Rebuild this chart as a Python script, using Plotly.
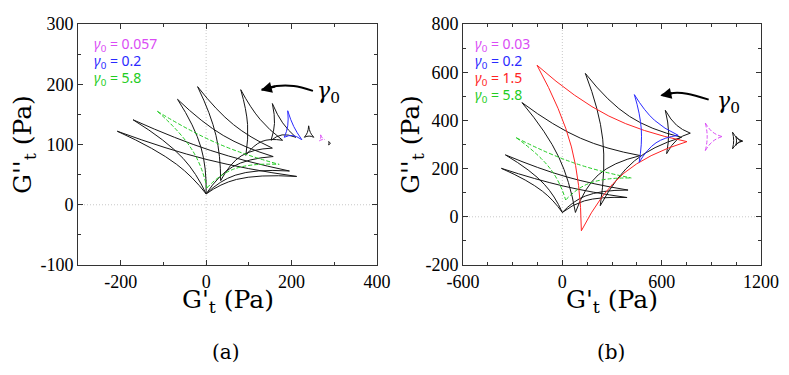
import plotly.graph_objects as go

# ---------------- Panel (a) : curved triangles (cusps + edge mid-points) ----------------
a_style = ["k", "k", "g", "k", "k", "k", "k", "b", "k", "m", "k"]
a_top_x = [-208, -171, -114, -67, -20, 81, 155, 191, 240, 268, 287]
a_top_y = [122, 141, 155, 175, 196, 191, 168, 156, 131, 116, 105]
a_right_x = [212, 195, 171, 157, 155, 179, 210, 224, 252, 278, 291]
a_right_y = [47, 56, 67, 80, 94, 107, 112, 108, 112, 108, 102]
a_bot_x = [0, 0, 2, 0, 34, 93, 152, 183, 230, 265, 287]
a_bot_y = [18, 18, 28, 18, 40, 82, 107, 112, 112, 106, 99]
a_mid_tr_x = [2, 11, 26, 40, 64, 126, 179, 205, 244, 272, 289]
a_mid_tr_y = [75, 90, 102, 115, 133, 142, 136, 130, 120, 111, 103]
a_mid_tb_x = [-69, -54, -31, -12, 23, 97, 160, 191, 237, 268, 287.5]
a_mid_tb_y = [67, 77, 89, 95, 115, 133, 135, 131, 120, 111, 102]
a_mid_br_x = [71, 68, 64, 62, 82, 130, 178, 202, 241, 271, 289]
a_mid_br_y = [42, 49, 59, 63, 81, 105, 116, 115, 114, 108, 101]

# ---------------- Panel (b) ----------------
b_style = ["k", "k", "g", "k", "r", "k", "b", "k", "m", "k", "k"]
b_top_x = [-368, -344, -278, -244, -153, 139, 435, 622, 864, 1028, 1048]
b_top_y = [201, 257, 328, 474, 629, 595, 507, 442, 389, 351, 334]
b_right_x = [391, 397, 417, 471, 753, 720, 700, 773, 965, 1090, 1082]
b_right_y = [80, 111, 161, 254, 312, 330, 338, 347, 333, 314, 314]
b_bot_x = [0, 0, 20, 79, 115, 229, 464, 630, 864, 1028, 1048]
b_bot_y = [18, 18, 70, 18, -58, 46, 226, 262, 275, 282, 296]
b_mid_tr_x = [10, 24, 64, 110, 281, 407, 556, 690, 909, 1056, 1063]
b_mid_tr_y = [127, 166, 225, 326, 418, 416, 401, 380, 351, 327, 321]
b_mid_tb_x = [-120, -109, -68, -21, 55, 244, 477, 642, 875, 1035, 1052]
b_mid_tb_y = [106, 135, 195, 247, 290, 322, 363, 351, 332, 316, 315]
b_mid_br_x = [133, 138, 163, 217, 372, 437, 566, 693, 909, 1056, 1063]
b_mid_br_y = [66, 86, 139, 174, 181, 233, 307, 320, 313, 304, 308]

# legend-like labels
a_labels = ["0.057", "0.2", "5.8"]
a_label_styles = ["m", "b", "g"]
b_labels = ["0.03", "0.2", "1.5", "5.8"]
b_label_styles = ["m", "b", "r", "g"]

# curved "γ0" arrows (data coordinates)
arrow_a_x = [250, 205, 165, 130]
arrow_a_y = [189, 197, 197, 191]
arrow_b_x = [884, 753, 672, 600]
arrow_b_y = [486, 511, 514, 505]

# ticks
a_xticks = [-200, 0, 200, 400]
a_yticks = [-100, 0, 100, 200, 300]
b_xticks = [-600, 0, 600, 1200]
b_yticks = [-200, 0, 200, 400, 600, 800]

COLORS = {"k": "#161616", "g": "#22cc22", "b": "#2a2aff", "r": "#ff2424", "m": "#da4cf5"}
DASHED = {"g", "m"}
OFF = 8                      # page body margin of the browser
W, H = 789 - OFF, 375 - OFF
SERIF = "Liberation Serif, Times New Roman, serif"
SERIF2 = "DejaVu Serif, Liberation Serif, serif"


def px(x):
    return (x - OFF) / W


def py(y):
    return 1 - (y - OFF) / H


fig = go.Figure()


def add_panel(style, tx, ty, rx, ry, bx, by, mtrx, mtry, mtbx, mtby, mbrx, mbry, xa, ya):
    order = [i for i, s in enumerate(style) if s == "k"] + [i for i, s in enumerate(style) if s != "k"]
    for i in order:
        xs = [tx[i], mtrx[i], rx[i], None, tx[i], mtbx[i], bx[i], None, bx[i], mbrx[i], rx[i]]
        ys = [ty[i], mtry[i], ry[i], None, ty[i], mtby[i], by[i], None, by[i], mbry[i], ry[i]]
        s = style[i]
        fig.add_trace(go.Scatter(
            x=xs, y=ys, xaxis=xa, yaxis=ya, mode="lines", connectgaps=False,
            line=dict(color=COLORS[s], width=1.0, shape="spline", smoothing=1.3,
                      dash="4px,2px" if s in DASHED else "solid"),
            hoverinfo="skip", showlegend=False))


add_panel(a_style, a_top_x, a_top_y, a_right_x, a_right_y, a_bot_x, a_bot_y,
          a_mid_tr_x, a_mid_tr_y, a_mid_tb_x, a_mid_tb_y, a_mid_br_x, a_mid_br_y, "x", "y")
add_panel(b_style, b_top_x, b_top_y, b_right_x, b_right_y, b_bot_x, b_bot_y,
          b_mid_tr_x, b_mid_tr_y, b_mid_tb_x, b_mid_tb_y, b_mid_br_x, b_mid_br_y, "x2", "y2")

# arrow bodies
for ax_, ay_, xa, ya in [(arrow_a_x, arrow_a_y, "x", "y"), (arrow_b_x, arrow_b_y, "x2", "y2")]:
    fig.add_trace(go.Scatter(x=ax_, y=ay_, xaxis=xa, yaxis=ya, mode="lines",
                             line=dict(color="black", width=2, shape="spline"),
                             hoverinfo="skip", showlegend=False))

tickfont = dict(family=SERIF, size=18, color="black")
common = dict(showline=True, linecolor="#333333", linewidth=1, mirror="allticks",
              ticks="inside", ticklen=5, tickwidth=1, tickcolor="#333333", automargin=False,
              showgrid=False, zeroline=False, tickfont=tickfont, tickmode="array")

fig.update_layout(
    width=W, height=H, autosize=False,
    margin=dict(l=0, r=0, t=0, b=0, pad=0, autoexpand=False),
    paper_bgcolor="white", plot_bgcolor="white", showlegend=False,
    xaxis=dict(domain=[px(78), px(377)], range=[-300, 400], anchor="y",
               tickvals=a_xticks, ticktext=[str(v) for v in a_xticks],
               minor=dict(tick0=0, dtick=100, ticks="inside", ticklen=3, tickcolor="#333333"), **common),
    yaxis=dict(domain=[py(265), py(24)], range=[-100, 300], anchor="x",
               tickvals=a_yticks, ticktext=[str(v) for v in a_yticks],
               minor=dict(tick0=0, dtick=50, ticks="inside", ticklen=3, tickcolor="#333333"), **common),
    xaxis2=dict(domain=[px(463), px(761)], range=[-600, 1200], anchor="y2",
                tickvals=b_xticks, ticktext=[str(v) for v in b_xticks],
                minor=dict(tick0=0, dtick=150, ticks="inside", ticklen=3, tickcolor="#333333"), **common),
    yaxis2=dict(domain=[py(265), py(24)], range=[-200, 800], anchor="x2",
                tickvals=b_yticks, ticktext=[str(v) for v in b_yticks],
                minor=dict(tick0=0, dtick=100, ticks="inside", ticklen=3, tickcolor="#333333"), **common),
)

# dotted zero lines
for xr, yr in [("x", "y"), ("x2", "y2")]:
    fig.add_shape(type="line", xref=xr, yref=yr + " domain", x0=0, x1=0, y0=0, y1=1,
                  line=dict(color="#c8c8c8", width=1, dash="1px,2px"), layer="below")
    fig.add_shape(type="line", xref=xr + " domain", yref=yr, x0=0, x1=1, y0=0, y1=0,
                  line=dict(color="#c8c8c8", width=1, dash="1px,2px"), layer="below")

ann = []
# arrow heads
ann.append(dict(xref="x", yref="y", axref="x", ayref="y", x=arrow_a_x[-1] - 2, y=arrow_a_y[-1] - 1,
                ax=arrow_a_x[-2], ay=arrow_a_y[-2], text="", showarrow=True,
                arrowhead=2, arrowsize=1.1, arrowwidth=2, arrowcolor="black"))
ann.append(dict(xref="x2", yref="y2", axref="x2", ayref="y2", x=arrow_b_x[-1] - 8, y=arrow_b_y[-1] - 3,
                ax=arrow_b_x[-2], ay=arrow_b_y[-2], text="", showarrow=True,
                arrowhead=2, arrowsize=1.1, arrowwidth=2, arrowcolor="black"))
# γ0 labels near arrows
gam_font = dict(family=SERIF2, size=22, color="black")
ann.append(dict(xref="paper", yref="paper", x=px(328), y=py(93), text="<i>γ</i><sub>0</sub>",
                showarrow=False, font=gam_font, xanchor="center", yanchor="middle"))
ann.append(dict(xref="paper", yref="paper", x=px(728), y=py(103), text="<i>γ</i><sub>0</sub>",
                showarrow=False, font=gam_font, xanchor="center", yanchor="middle"))

# legend texts
lfont = "Noto Sans, DejaVu Sans, sans-serif"
for i, (lab, st) in enumerate(zip(a_labels, a_label_styles)):
    ann.append(dict(xref="paper", yref="paper", x=px(92), y=py(44 + 17.5 * i),
                    text="<i>γ</i><sub>0</sub> = " + lab, showarrow=False,
                    font=dict(family=lfont, size=14, color=COLORS[st]),
                    xanchor="left", yanchor="middle"))
for i, (lab, st) in enumerate(zip(b_labels, b_label_styles)):
    ann.append(dict(xref="paper", yref="paper", x=px(473), y=py(44 + 17.3 * i),
                    text="<i>γ</i><sub>0</sub> = " + lab, showarrow=False,
                    font=dict(family=lfont, size=14, color=COLORS[st]),
                    xanchor="left", yanchor="middle"))

# axis titles and panel labels
tfont = dict(family=SERIF2, size=25, color="black")
for cx in [227.5, 612]:
    ann.append(dict(xref="paper", yref="paper", x=px(cx), y=py(301), text="G'<sub>t</sub> (Pa)",
                    showarrow=False, font=tfont, xanchor="center", yanchor="middle"))
for cx in [24, 412]:
    ann.append(dict(xref="paper", yref="paper", x=px(cx), y=py(145), text="G''<sub>t</sub> (Pa)",
                    showarrow=False, font=tfont, textangle=-90, xanchor="center", yanchor="middle"))
pfont = dict(family=SERIF2, size=20, color="black")
ann.append(dict(xref="paper", yref="paper", x=px(226), y=py(352), text="(a)",
                showarrow=False, font=pfont, xanchor="center", yanchor="middle"))
ann.append(dict(xref="paper", yref="paper", x=px(611), y=py(352), text="(b)",
                showarrow=False, font=pfont, xanchor="center", yanchor="middle"))

fig.update_layout(annotations=ann)
fig.write_html("out.html")
